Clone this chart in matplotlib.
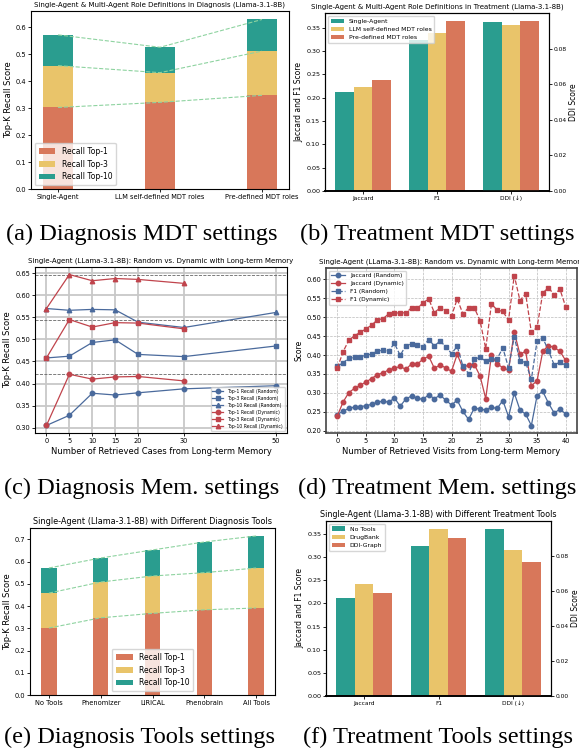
import matplotlib
matplotlib.use("Agg")
import matplotlib.pyplot as plt
import numpy as np

W, H = 579, 753

# (a) diagnosis, role definitions
mdt_roles = ["Single-Agent", "LLM self-defined MDT roles", "Pre-defined MDT roles"]
mdt_top1 = [0.302, 0.321, 0.347]
mdt_top3 = [0.457, 0.431, 0.511]
mdt_top10 = [0.571, 0.525, 0.628]

# (b) treatment, role definitions
treat_metrics = ["Jaccard", "F1", "DDI (↓)"]
mdt_models = ["Single-Agent", "LLM self-defined MDT roles", "Pre-defined MDT roles"]
mdt_jaccard = [0.211, 0.222, 0.237]
mdt_f1 = [0.323, 0.339, 0.363]
mdt_ddi = [0.0948, 0.0932, 0.0952]

# (c) diagnosis, long-term memory
mem_k_rand = [0, 5, 10, 15, 20, 30, 50]
mem_k_dyn = [0, 5, 10, 15, 20, 30]
rand_top1 = [0.305, 0.328, 0.378, 0.374, 0.379, 0.388, 0.395]
rand_top3 = [0.458, 0.462, 0.493, 0.499, 0.466, 0.461, 0.485]
rand_top10 = [0.570, 0.566, 0.568, 0.567, 0.539, 0.527, 0.561]
dyn_top1 = [0.305, 0.421, 0.410, 0.415, 0.416, 0.406]
dyn_top3 = [0.458, 0.545, 0.528, 0.538, 0.537, 0.524]
dyn_top10 = [0.570, 0.647, 0.633, 0.638, 0.636, 0.627]
best_dyn = [0.421, 0.545, 0.647]

# (d) treatment, long-term memory
visits = list(range(41))
jac_rand = [0.243, 0.252, 0.259, 0.263, 0.264, 0.266, 0.270, 0.275, 0.279, 0.275,
            0.287, 0.265, 0.284, 0.292, 0.286, 0.283, 0.295, 0.285, 0.294, 0.281,
            0.268, 0.281, 0.251, 0.230, 0.260, 0.257, 0.255, 0.262, 0.259, 0.280,
            0.237, 0.300, 0.255, 0.244, 0.214, 0.293, 0.304, 0.273, 0.247, 0.257,
            0.245]
jac_dyn = [0.240, 0.276, 0.301, 0.312, 0.320, 0.329, 0.338, 0.348, 0.353, 0.361,
           0.365, 0.370, 0.362, 0.377, 0.376, 0.389, 0.397, 0.365, 0.374, 0.366,
           0.357, 0.402, 0.365, 0.375, 0.375, 0.345, 0.285, 0.399, 0.376, 0.367,
           0.360, 0.461, 0.402, 0.410, 0.319, 0.332, 0.410, 0.425, 0.420, 0.410,
           0.386]
f1_rand = [0.370, 0.380, 0.391, 0.394, 0.396, 0.399, 0.403, 0.410, 0.413, 0.411,
           0.431, 0.399, 0.425, 0.429, 0.427, 0.422, 0.441, 0.424, 0.437, 0.422,
           0.404, 0.423, 0.371, 0.351, 0.389, 0.394, 0.384, 0.389, 0.390, 0.419,
           0.366, 0.448, 0.385, 0.380, 0.336, 0.437, 0.445, 0.412, 0.374, 0.381,
           0.373]
f1_dyn = [0.366, 0.409, 0.439, 0.451, 0.460, 0.469, 0.479, 0.493, 0.496, 0.509,
          0.510, 0.512, 0.511, 0.525, 0.523, 0.538, 0.548, 0.512, 0.525, 0.516,
          0.503, 0.548, 0.509, 0.525, 0.525, 0.491, 0.417, 0.535, 0.519, 0.515,
          0.492, 0.610, 0.544, 0.562, 0.460, 0.473, 0.564, 0.578, 0.559, 0.574,
          0.528]

# (e) diagnosis tools
diag_tools = ["No Tools", "Phenomizer", "LIRICAL", "Phenobrain", "All Tools"]
tool_top1 = [0.301, 0.347, 0.367, 0.383, 0.391]
tool_top3 = [0.458, 0.508, 0.535, 0.550, 0.571]
tool_top10 = [0.571, 0.616, 0.652, 0.688, 0.715]

# (f) treatment tools
treat_tools = ["No Tools", "DrugBank", "DDI-Graph"]
tool_jaccard = [0.211, 0.241, 0.222]
tool_f1 = [0.323, 0.360, 0.341]
tool_ddi = [0.0952, 0.0835, 0.0766]

RED = "#d8775a"
YEL = "#e9c46a"
TEAL = "#2a9d8f"
GREEN_LINE = "#8ed3a0"
BLUE_L = "#4a6a9c"
RED_L = "#c0444c"

plt.rcParams["font.family"] = "DejaVu Sans"
plt.rcParams["font.size"] = 5
plt.rcParams["xtick.labelsize"] = 4.8
plt.rcParams["ytick.labelsize"] = 4.8
plt.rcParams["axes.linewidth"] = 0.8
plt.rcParams["xtick.major.size"] = 2
plt.rcParams["ytick.major.size"] = 2
plt.rcParams["xtick.major.width"] = 0.6
plt.rcParams["ytick.major.width"] = 0.6
plt.rcParams["xtick.major.pad"] = 1.5
plt.rcParams["ytick.major.pad"] = 1.5

fig = plt.figure(figsize=(W / 100, H / 100), dpi=100)


def box(l, t, r, b):
    return [l / W, 1 - b / H, (r - l) / W, (b - t) / H]


def stacked(ax, cats, t1, t3, t10, title, legend_loc, tsize):
    x = np.arange(len(cats))
    t1, t3, t10 = np.array(t1), np.array(t3), np.array(t10)
    ax.bar(x, t1, 0.3, color=RED, label="Recall Top-1")
    ax.bar(x, t3 - t1, 0.3, bottom=t1, color=YEL, label="Recall Top-3")
    ax.bar(x, t10 - t3, 0.3, bottom=t3, color=TEAL, label="Recall Top-10")
    for s in (t1, t3, t10):
        ax.plot(x, s, "--", color=GREEN_LINE, lw=0.8, zorder=3)
    ax.set_xticks(x)
    ax.set_xticklabels(cats)
    ax.set_ylabel("Top-K Recall Score", fontsize=6, labelpad=2)
    ax.set_title(title, pad=3, fontsize=tsize)
    ax.legend(loc=legend_loc, fontsize=5.5, handlelength=2.2, borderpad=0.5)


def grouped(ax, models, jac, f1, ddi, title, tsize):
    ax2 = ax.twinx()
    cols = [TEAL, YEL, RED]
    w = 0.25
    for i, m in enumerate(models):
        off = (i - 1) * w
        ax.bar(np.array([0, 1]) + off, [jac[i], f1[i]], w, color=cols[i], label=m)
        ax2.bar(2 + off, ddi[i], w, color=cols[i])
    ax.set_xticks([0, 1, 2])
    ax.set_xticklabels(treat_metrics, fontsize=4.2)
    ax.tick_params(axis="y", labelsize=4.6)
    ax2.tick_params(axis="y", labelsize=4.3)
    ax.set_ylabel("Jaccard and F1 Score", fontsize=5.5, labelpad=2)
    ax2.set_ylabel("DDI Score", fontsize=5.5, labelpad=1)
    ax2.set_ylim(0, max(ddi) * 1.05)
    ax.set_ylim(0, max(f1) * 1.05)
    ax.set_title(title, pad=3, fontsize=tsize)
    ax.legend(loc="upper left", fontsize=4.4, handlelength=2.2)
    for a in (ax, ax2):
        a.spines["bottom"].set_linewidth(1.2)


# (a)
ax_a = fig.add_axes(box(31, 11, 289, 189))
stacked(ax_a, mdt_roles, mdt_top1, mdt_top3, mdt_top10,
        "Single-Agent & Multi-Agent Role Definitions in Diagnosis (Llama-3.1-8B)",
        "lower left", 5)

# (b)
ax_b = fig.add_axes(box(325, 13, 549, 191))
grouped(ax_b, mdt_models, mdt_jaccard, mdt_f1, mdt_ddi,
        "Single-Agent & Multi-Agent Role Definitions in Treatment (Llama-3.1-8B)", 5)

# (c)
ax_c = fig.add_axes(box(35, 267, 287, 433))
ax_c.grid(True, color="#c8c8c8", lw=1.3, zorder=0)
ax_c.set_axisbelow(True)
for y in best_dyn:
    ax_c.axhline(y, color="#666666", ls="--", lw=0.6, zorder=1)
mk = dict(ms=3.2, lw=0.9)
ax_c.plot(mem_k_rand, rand_top1, "o-", color=BLUE_L, label="Top-1 Recall (Random)", **mk)
ax_c.plot(mem_k_rand, rand_top3, "s-", color=BLUE_L, label="Top-3 Recall (Random)", **mk)
ax_c.plot(mem_k_rand, rand_top10, "^-", color=BLUE_L, label="Top-10 Recall (Random)", **mk)
ax_c.plot(mem_k_dyn, dyn_top1, "o-", color=RED_L, label="Top-1 Recall (Dynamic)", **mk)
ax_c.plot(mem_k_dyn, dyn_top3, "s-", color=RED_L, label="Top-3 Recall (Dynamic)", **mk)
ax_c.plot(mem_k_dyn, dyn_top10, "^-", color=RED_L, label="Top-10 Recall (Dynamic)", **mk)
ax_c.set_xticks(mem_k_rand)
ax_c.set_xlabel("Number of Retrieved Cases from Long-term Memory", fontsize=6, labelpad=2)
ax_c.set_ylabel("Top-K Recall Score", fontsize=6, labelpad=2)
ax_c.set_title("Single-Agent (LLama-3.1-8B): Random vs. Dynamic with Long-term Memory",
               pad=3, fontsize=5)
ax_c.legend(loc="lower right", fontsize=3.3, handlelength=2.4, labelspacing=0.45)

# (d)
ax_d = fig.add_axes(box(326, 268, 577, 433))
ax_d.grid(True, color="#bbbbbb", ls="--", lw=0.5)
ax_d.set_axisbelow(True)
md = dict(ms=3.2, lw=0.9)
ax_d.plot(visits, jac_rand, "o-", color=BLUE_L, label="Jaccard (Random)", **md)
ax_d.plot(visits, jac_dyn, "o-", color=RED_L, label="Jaccard (Dynamic)", **md)
ax_d.plot(visits, f1_rand, "s--", color=BLUE_L, label="F1 (Random)", **md)
ax_d.plot(visits, f1_dyn, "s--", color=RED_L, label="F1 (Dynamic)", **md)
ax_d.set_xticks(list(range(0, 41, 5)))
ax_d.set_xlabel("Number of Retrieved Visits from Long-term Memory", fontsize=6, labelpad=2)
ax_d.set_ylabel("Score", fontsize=5.5, labelpad=2)
ax_d.set_title("Single-Agent (LLama-3.1-8B): Random vs. Dynamic with Long-term Memory",
               pad=3, fontsize=5)
ax_d.legend(loc="upper left", fontsize=4.2, handlelength=2.4)
for s in ax_d.spines.values():
    s.set_linewidth(1.2)
    s.set_color("#444444")

# (e)
ax_e = fig.add_axes(box(30, 528, 275, 695))
stacked(ax_e, diag_tools, tool_top1, tool_top3, tool_top10,
        "Single-Agent (Llama-3.1-8B) with Different Diagnosis Tools", "lower center", 5.9)

# (f)
ax_f = fig.add_axes(box(326, 521, 551, 696))
grouped(ax_f, treat_tools, tool_jaccard, tool_f1, tool_ddi,
        "Single-Agent (Llama-3.1-8B) with Different Treatment Tools", 5.75)

cap = dict(family="Liberation Serif", fontsize=17.6, ha="center", va="center")
fig.text(142 / W, 1 - 234 / H, "(a) Diagnosis MDT settings", **cap)
fig.text(437 / W, 1 - 234 / H, "(b) Treatment MDT settings", **cap)
fig.text(142 / W, 1 - 488 / H, "(c) Diagnosis Mem. settings", **cap)
fig.text(437 / W, 1 - 488 / H, "(d) Treatment Mem. settings", **cap)
fig.text(140 / W, 1 - 737 / H, "(e) Diagnosis Tools settings", **cap)
fig.text(438 / W, 1 - 737 / H, "(f) Treatment Tools settings", **cap)

fig.savefig("out.png", dpi=100)
